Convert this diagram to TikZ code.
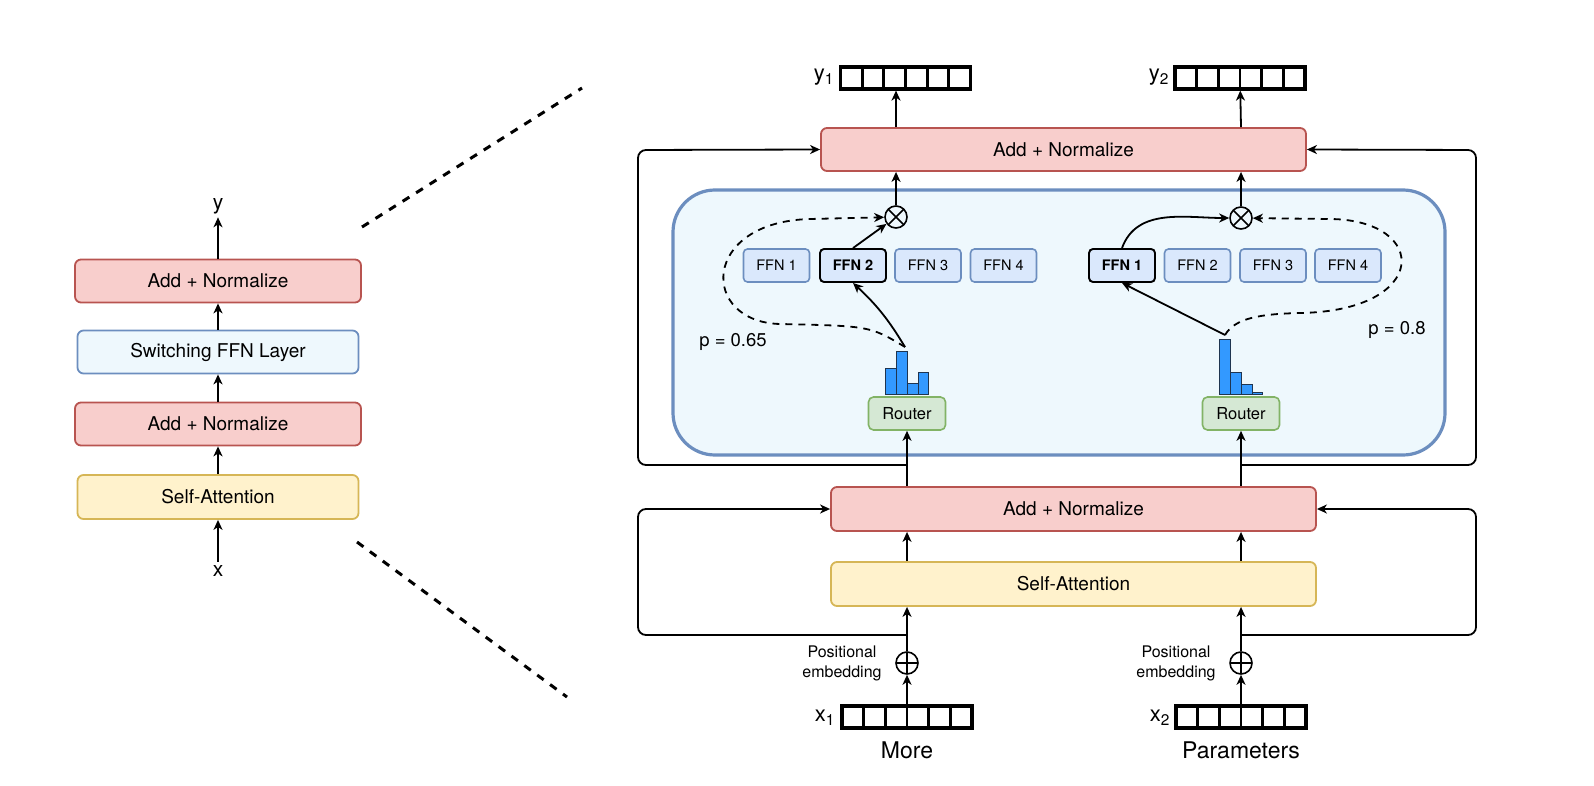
\documentclass[tikz,border=0pt]{standalone}
\usepackage{fontspec}
\setmainfont{TeX Gyre Heros}
\usetikzlibrary{
    arrows.meta,
    calc,
    positioning
}
\definecolor{rdfill}{HTML}{F8CECC}
\definecolor{rdline}{HTML}{B85450}
\definecolor{attfill}{HTML}{FFF2CC}
\definecolor{attline}{HTML}{D6B656}
\definecolor{swfill}{HTML}{EEF8FD}
\definecolor{blline}{HTML}{6C8EBF}
\definecolor{ffnfill}{HTML}{DAE8FC}
\definecolor{rtfill}{HTML}{D5E8D4}
\definecolor{rtline}{HTML}{82B366}
\definecolor{histblue}{HTML}{3399FF}
\definecolor{histline}{HTML}{1F3550}

\begin{document}
\begin{tikzpicture}[x=1pt, y=-1pt,
    every node/.style={font=\fontsize{19}{22}\selectfont},
    arr/.style={-{Stealth[length=10pt, width=9pt, inset=3pt]}, line width=1.8pt},
    blk/.style={draw, rounded corners=6pt, line width=1.8pt, minimum height=43pt, inner sep=0pt},
    addnorm/.style={blk, draw=rdline, fill=rdfill},
    attn/.style={blk, draw=attline, fill=attfill},
    swbox/.style={blk, draw=blline, fill=swfill},
    ffn/.style={draw=blline, fill=ffnfill, rounded corners=4pt, line width=1.6pt, minimum width=66pt, minimum height=33pt, inner sep=0pt, font=\fontsize{14.5}{17}\selectfont},
    ffnsel/.style={ffn, draw=black, line width=1.9pt, font=\fontsize{14.5}{17}\bfseries\selectfont},
    router/.style={draw=rtline, fill=rtfill, rounded corners=5pt, line width=1.6pt, minimum width=77pt, minimum height=33pt, inner sep=0pt, font=\fontsize{16.5}{19}\selectfont},
    bar/.style={draw=histline, fill=histblue, line width=1pt, minimum width=10.7pt, inner sep=0pt, anchor=south},
    mult/.style={circle, draw, line width=1.6pt, minimum size=22pt, inner sep=0pt,
        path picture={\draw[line width=1.6pt]
            ([shift={(45:11pt)}]path picture bounding box.center) -- ([shift={(225:11pt)}]path picture bounding box.center)
            ([shift={(135:11pt)}]path picture bounding box.center) -- ([shift={(-45:11pt)}]path picture bounding box.center);}},
    plus/.style={circle, draw, line width=1.6pt, minimum size=22pt, inner sep=0pt,
        path picture={\draw[line width=1.6pt]
            ([shift={(0:11pt)}]path picture bounding box.center) -- ([shift={(180:11pt)}]path picture bounding box.center)
            ([shift={(90:11pt)}]path picture bounding box.center) -- ([shift={(-90:11pt)}]path picture bounding box.center);}},
    vec/.style={draw, line width=3.2pt, minimum width=130pt, minimum height=22pt, inner sep=0pt,
        path picture={\foreach \k in {1,...,5}{\draw[line width=2.8pt]
            ($(path picture bounding box.south west)!\k/6!(path picture bounding box.south east)$) --
            ($(path picture bounding box.north west)!\k/6!(path picture bounding box.north east)$);}}},
    vlabel/.style={font=\fontsize{22}{24}\selectfont},
    dashline/.style={arr, dash pattern=on 7pt off 6pt},
    zoomline/.style={line width=3pt, dash pattern=on 8pt off 8pt}
]
    \useasboundingbox (0,0) rectangle (1594,786);

    \begin{scope}
        \node[addnorm, minimum width=286pt] (lan2) at (218,281) {Add + Normalize};
        \node[swbox, minimum width=281pt] (lsw) at (218,352) {Switching FFN Layer};
        \node[addnorm, minimum width=286pt] (lan1) at (218,424) {Add + Normalize};
        \node[attn, minimum width=281pt, minimum height=44pt] (lsa) at (218,497) {Self-Attention};
        \node[font=\fontsize{21}{24}\selectfont] (ly) at (218,206) {y};
        \node[font=\fontsize{21}{24}\selectfont] (lx) at (218,571) {x};

        \draw[arr] (lx) -- (lsa);
        \draw[arr] (lsa) -- (lan1);
        \draw[arr] (lan1) -- (lsw);
        \draw[arr] (lsw) -- (lan2);
        \draw[arr] (lan2) -- (ly);
    \end{scope}

    \coordinate (z1) at (362,227);
    \coordinate (z2) at (582,88);
    \coordinate (z3) at (357,542);
    \coordinate (z4) at (567,697);
    \draw[zoomline] (z1) -- (z2);
    \draw[zoomline] (z3) -- (z4);

    \begin{scope}
        \node[draw=blline, fill=swfill, line width=3.2pt, rounded corners=42pt, minimum width=772pt, minimum height=265pt] (moe) at (1059,322.5) {};

        \node[addnorm, minimum width=485pt] (tan) at (1063.5,149.5) {Add + Normalize};
        \node[addnorm, minimum width=485pt, minimum height=44pt] (man) at (1073.5,509) {Add + Normalize};
        \node[attn, minimum width=485pt, minimum height=44pt] (rsa) at (1073.5,584) {Self-Attention};

        \node[vec] (vy1) at (905.5,78) {};
        \node[vec] (vy2) at (1240,78) {};
        \node[vec] (vx1) at (907,717) {};
        \node[vec] (vx2) at (1241,717) {};
        \node[vlabel] (ly1) at (824,77) {y\textsubscript{1}};
        \node[vlabel] (ly2) at (1159,77) {y\textsubscript{2}};
        \node[vlabel] (lx1) at (825,718) {x\textsubscript{1}};
        \node[vlabel] (lx2) at (1160,718) {x\textsubscript{2}};
        \node[font=\fontsize{23}{26}\selectfont] (w1) at (907,750) {More};
        \node[font=\fontsize{23}{26}\selectfont] (w2) at (1241,750) {Parameters};

        \node[plus] (pe1) at (907,663) {};
        \node[plus] (pe2) at (1241,663) {};
        \node[font=\fontsize{16}{20}\selectfont, align=center] (pos1) at (842,663) {Positional\\embedding};
        \node[font=\fontsize{16}{20}\selectfont, align=center] (pos2) at (1176,663) {Positional\\embedding};

        \node[ffn] (f11) at (776.5,265.5) {FFN 1};
        \node[ffnsel] (f12) at (853,265.5) {FFN 2};
        \node[ffn] (f13) at (928,265.5) {FFN 3};
        \node[ffn] (f14) at (1003.5,265.5) {FFN 4};
        \node[ffnsel] (f21) at (1122,265.5) {FFN 1};
        \node[ffn] (f22) at (1197.5,265.5) {FFN 2};
        \node[ffn] (f23) at (1273,265.5) {FFN 3};
        \node[ffn] (f24) at (1348,265.5) {FFN 4};

        \node[router] (rt1) at (907,413.5) {Router};
        \node[router] (rt2) at (1241,413.5) {Router};

        \node[bar, minimum height=26pt] (b11) at (891.3,395) {};
        \node[bar, minimum height=43pt] (b12) at (902,395) {};
        \node[bar, minimum height=11pt] (b13) at (912.7,395) {};
        \node[bar, minimum height=22pt] (b14) at (923.4,395) {};
        \node[bar, minimum height=55pt] (b21) at (1225.3,395) {};
        \node[bar, minimum height=22pt] (b22) at (1236,395) {};
        \node[bar, minimum height=10pt] (b23) at (1246.7,395) {};
        \node[bar, minimum height=2pt] (b24) at (1257.4,395) {};

        \node[mult] (ot1) at (896,217) {};
        \node[mult] (ot2) at (1241,218) {};

        \node[font=\fontsize{18.5}{21}\selectfont] (p1) at (733,342) {p = 0.65};
        \node[font=\fontsize{18.5}{21}\selectfont] (p2) at (1397,330) {p = 0.8};

        \coordinate (s1) at (905,347);
        \coordinate (s2) at (1225,335);
        \coordinate (lp1) at (907,635);
        \coordinate (lp2) at (907,465);
        \coordinate (lp3) at (1241,635);
        \coordinate (lp4) at (1241,465);

        \draw[arr] (vx1) -- (pe1);
        \draw[arr] (pe1) -- (pe1 |- rsa.south);
        \draw[arr] (pe1 |- rsa.north) -- (pe1 |- man.south);
        \draw[arr] (pe1 |- man.north) -- (rt1);
        \draw[arr] (s1) to[bend right=8] (f12.south);
        \draw[arr] (f12.north) -- (ot1);
        \draw[dashline] (s1) .. controls (870,326) .. (780,324) .. controls (700,322) and (700,222) .. (810,219) -- (ot1);
        \draw[arr] (ot1) -- (ot1 |- tan.south);
        \draw[arr] (ot1 |- tan.north) -- (ot1 |- vy1.south);

        \draw[arr] (vx2) -- (pe2);
        \draw[arr] (pe2) -- (pe2 |- rsa.south);
        \draw[arr] (pe2 |- rsa.north) -- (pe2 |- man.south);
        \draw[arr] (pe2 |- man.north) -- (rt2);
        \draw[arr] (s2) -- (f21.south);
        \draw[arr] (f21.north) to[out=70, in=180] (ot2);
        \draw[dashline] (s2) .. controls (1235,318) and (1260,314) .. (1300,313) .. controls (1430,311) and (1430,220) .. (1330,219) -- (ot2);
        \draw[arr] (ot2) -- (ot2 |- tan.south);
        \draw[arr] (ot2 |- tan.north) -- (vy2);

        \draw[arr, rounded corners=8pt] (lp1) -| (638,509) -- (man.west);
        \draw[arr, rounded corners=8pt] (lp2) -| (638,150) -- (tan.west);
        \draw[arr, rounded corners=8pt] (lp3) -| (1476,509) -- (man.east);
        \draw[arr, rounded corners=8pt] (lp4) -| (1476,150) -- (tan.east);
    \end{scope}
\end{tikzpicture}
\end{document}
